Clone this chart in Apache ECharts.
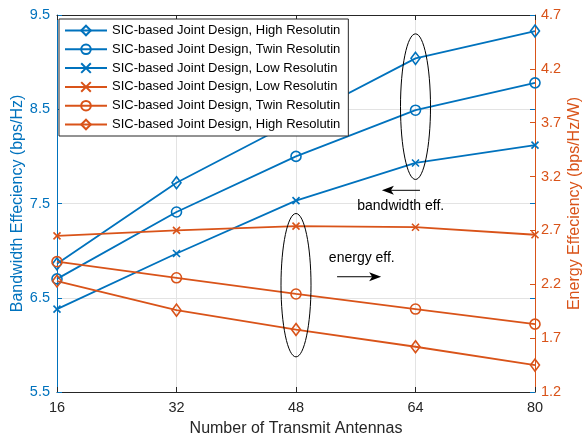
<!DOCTYPE html>
<html>
<head>
<meta charset="utf-8">
<script src="https://cdn.jsdelivr.net/npm/echarts@6/dist/echarts.min.js"></script>
<style>
  html, body { margin: 0; padding: 0; background: #fff; }
  #chart { width: 585px; height: 436px; }
</style>
</head>
<body>
<div id="chart"></div>
<script>
// Number of transmit antennas
const antennas = [16, 32, 48, 64, 80];

// Bandwidth efficiency (bps/Hz), left axis
const bwHigh = [6.86, 7.72, 8.38, 9.04, 9.33];
const bwTwin = [6.70, 7.41, 8.00, 8.49, 8.78];
const bwLow  = [6.38, 6.97, 7.53, 7.93, 8.12];

// Energy efficiency (bps/Hz/W), right axis
const eeLow  = [2.65, 2.70, 2.74, 2.73, 2.66];
const eeTwin = [2.41, 2.26, 2.11, 1.97, 1.83];
const eeHigh = [2.23, 1.96, 1.78, 1.62, 1.45];

const nameHigh = 'SIC-based Joint Design, High Resolutin';
const nameTwin = 'SIC-based Joint Design, Twin Resolutin';
const nameLow  = 'SIC-based Joint Design, Low Resolutin';
// zero-width space keeps the orange entries distinct in the legend
const zw = '\u200b';

const BLUE = '#0072BD';
const ORANGE = '#D95319';
const DARK = '#262626';
const GRID = '#e3e3e3';
const FONT = 'Liberation Sans, Arial, Helvetica, sans-serif';

const X_MARK = 'path://M0,0L10,10M10,0L0,10';

function pairs(ys) { return antennas.map((x, i) => [x, ys[i]]); }

function makeSeries(name, ys, color, symbol, size, yAxisIndex) {
  return {
    type: 'line',
    name: name,
    yAxisIndex: yAxisIndex,
    data: pairs(ys),
    symbol: symbol,
    symbolSize: size,
    showAllSymbol: true,
    lineStyle: { color: color, width: 1.8 },
    itemStyle: { color: 'rgba(0,0,0,0)', borderColor: color, borderWidth: 1.6 },
    emphasis: { disabled: true }
  };
}

const chart = echarts.init(document.getElementById('chart'), null, { renderer: 'canvas' });

const option = {
  animation: false,
  backgroundColor: '#fff',
  textStyle: { fontFamily: FONT },
  grid: { left: 57, right: 50, top: 15, bottom: 44, containLabel: false, outerBoundsMode: 'none' },
  legend: {
    orient: 'vertical',
    left: 59,
    top: 19,
    padding: [5, 8, 5, 5],
    itemGap: 5.8,
    itemWidth: 42,
    itemHeight: 12,
    backgroundColor: '#fff',
    borderColor: DARK,
    borderWidth: 1,
    borderRadius: 0,
    selectedMode: false,
    textStyle: { color: '#000', fontSize: 13, fontFamily: FONT },
    data: [nameHigh, nameTwin, nameLow, nameLow + zw, nameTwin + zw, nameHigh + zw]
  },
  xAxis: [
    {
      type: 'value',
      min: 16, max: 80, interval: 16,
      name: 'Number of Transmit Antennas',
      nameLocation: 'middle',
      nameGap: 29,
      nameMoveOverlap: false,
      nameTextStyle: { color: DARK, fontSize: 16, fontFamily: FONT },
      axisLine: { show: true, lineStyle: { color: DARK, width: 1 } },
      axisTick: { show: true, inside: true, length: 5, lineStyle: { color: DARK } },
      axisLabel: { color: DARK, fontSize: 14.5, margin: 8, fontFamily: FONT },
      splitLine: { show: true, lineStyle: { color: GRID, width: 1 } }
    },
    {
      type: 'value',
      position: 'top',
      min: 16, max: 80, interval: 16,
      axisLine: { show: true, onZero: false, lineStyle: { color: DARK, width: 1 } },
      axisTick: { show: true, inside: true, length: 5, lineStyle: { color: DARK } },
      axisLabel: { show: false },
      splitLine: { show: false }
    }
  ],
  yAxis: [
    {
      type: 'value',
      position: 'left',
      min: 5.5, max: 9.5, interval: 1,
      name: 'Bandwidth Effeciency (bps/Hz)',
      nameLocation: 'middle',
      nameGap: 31,
      nameMoveOverlap: false,
      nameTextStyle: { color: BLUE, fontSize: 16, fontFamily: FONT },
      axisLine: { show: true, onZero: false, lineStyle: { color: BLUE, width: 1 } },
      axisTick: { show: true, inside: true, length: 5, lineStyle: { color: BLUE } },
      axisLabel: { color: BLUE, fontSize: 14.5, margin: 7, fontFamily: FONT,
                   formatter: v => v.toFixed(1) },
      splitLine: { show: true, lineStyle: { color: GRID, width: 1 } }
    },
    {
      type: 'value',
      position: 'right',
      min: 1.2, max: 4.7, interval: 0.5,
      name: 'Energy Effeciency (bps/Hz/W)',
      nameLocation: 'middle',
      nameGap: 32,
      nameMoveOverlap: false,
      nameTextStyle: { color: ORANGE, fontSize: 16, fontFamily: FONT },
      axisLine: { show: true, onZero: false, lineStyle: { color: ORANGE, width: 1 } },
      axisTick: { show: true, inside: true, length: 5, lineStyle: { color: ORANGE } },
      axisLabel: { color: ORANGE, fontSize: 14.5, margin: 6, fontFamily: FONT,
                   formatter: v => v.toFixed(1) },
      splitLine: { show: false }
    },
    {
      // left scale ticks mirrored on the right edge
      type: 'value',
      position: 'right',
      min: 5.5, max: 9.5, interval: 1,
      axisLine: { show: false },
      axisTick: { show: true, inside: true, length: 5, lineStyle: { color: BLUE } },
      axisLabel: { show: false },
      splitLine: { show: false }
    }
  ],
  series: [
    makeSeries(nameHigh, bwHigh, BLUE, 'diamond', [9, 12], 0),
    makeSeries(nameTwin, bwTwin, BLUE, 'circle', 10, 0),
    makeSeries(nameLow, bwLow, BLUE, X_MARK, 7, 0),
    makeSeries(nameLow + zw, eeLow, ORANGE, X_MARK, 7, 1),
    makeSeries(nameTwin + zw, eeTwin, ORANGE, 'circle', 10, 1),
    makeSeries(nameHigh + zw, eeHigh, ORANGE, 'diamond', [9, 12], 1)
  ]
};

chart.setOption(option);

// Annotations placed in data coordinates
const bwRing = { x: 64, top: 9.30, bottom: 7.755, halfWidth: 15 };   // left axis
const eeRing = { x: 48, top: 2.857, bottom: 1.526, halfWidth: 15 };  // right axis
const bwArrow = { from: [64.6, 7.64], to: [59.5, 7.64] };             // left axis
const eeArrow = { from: [53.5, 2.27], to: [59.4, 2.27] };             // right axis
const bwText = { at: [56.2, 7.47], text: 'bandwidth eff.' };          // left axis
const eeText = { at: [52.4, 2.447], text: 'energy eff.' };            // right axis

function px(axisIdx, pt) {
  return chart.convertToPixel({ xAxisIndex: 0, yAxisIndex: axisIdx }, pt);
}

function ring(r, axisIdx) {
  const a = px(axisIdx, [r.x, r.top]);
  const b = px(axisIdx, [r.x, r.bottom]);
  return {
    type: 'ellipse',
    shape: { cx: a[0], cy: (a[1] + b[1]) / 2, rx: r.halfWidth, ry: Math.abs(b[1] - a[1]) / 2 },
    style: { fill: 'none', stroke: '#000', lineWidth: 1 },
    z: 10
  };
}

function arrow(ar, axisIdx) {
  const p0 = px(axisIdx, ar.from);
  const p1 = px(axisIdx, ar.to);
  const dir = Math.sign(p1[0] - p0[0]);
  const L = 12, W = 4.5, back = 9;
  return [
    {
      type: 'line',
      shape: { x1: p0[0], y1: p0[1], x2: p1[0] - dir * back, y2: p1[1] },
      style: { stroke: '#000', lineWidth: 1 },
      z: 10
    },
    {
      type: 'polygon',
      shape: { points: [
        [p1[0], p1[1]],
        [p1[0] - dir * L, p1[1] - W],
        [p1[0] - dir * back, p1[1]],
        [p1[0] - dir * L, p1[1] + W]
      ] },
      style: { fill: '#000' },
      z: 10
    }
  ];
}

function label(t, axisIdx) {
  const p = px(axisIdx, t.at);
  return {
    type: 'text',
    x: p[0], y: p[1],
    style: { text: t.text, fill: '#000', font: '14px ' + FONT, verticalAlign: 'middle', align: 'left' },
    z: 10
  };
}

chart.setOption({
  graphic: [
    ring(bwRing, 0),
    ring(eeRing, 1),
    ...arrow(bwArrow, 0),
    ...arrow(eeArrow, 1),
    label(bwText, 0),
    label(eeText, 1)
  ]
});
</script>
</body>
</html>
